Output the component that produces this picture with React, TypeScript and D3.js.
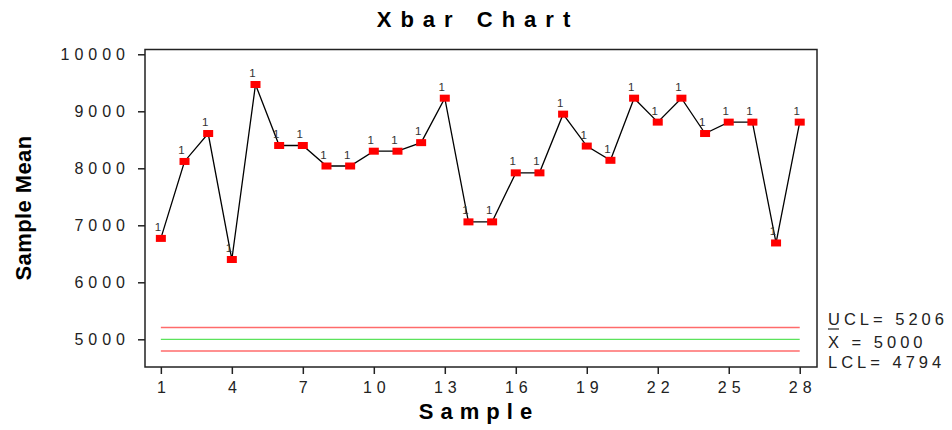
import React, { useRef, useEffect } from 'react';
import * as d3 from 'd3';

// sample numbers 1..28 and their means
const samples = Array.from({ length: 28 }, (_, i) => i + 1);
const means = [
  6770, 8120, 8610, 6400, 9470, 8400, 8400, 8040, 8040, 8300,
  8300, 8450, 9230, 7060, 7060, 7920, 7920, 8950, 8390, 8140,
  9230, 8810, 9230, 8610, 8810, 8810, 6690, 8810,
];
const flags = means.map(() => '1');
const xTicks = [1, 4, 7, 10, 13, 16, 19, 22, 25, 28];
const yTicks = [5000, 6000, 7000, 8000, 9000, 10000];
const limits = { ucl: 5206, center: 5000, lcl: 4794 };

const W = 952;
const H = 430;
const FONT = '"Liberation Sans", Arial, sans-serif';

export default function App() {
  const svgRef = useRef<SVGSVGElement>(null);

  useEffect(() => {
    if (!svgRef.current) return;
    const svg = d3.select(svgRef.current);
    svg.selectAll('*').remove();

    const left = 145, right = 817, top = 49.5, bottom = 367;

    const x = d3.scaleLinear().domain([0.33, 28.73]).range([left, right]);
    const y = d3.scaleLinear().domain([4514, 10084]).range([bottom, top]);

    // frame
    svg.append('rect')
      .attr('x', left).attr('y', top)
      .attr('width', right - left).attr('height', bottom - top)
      .attr('fill', 'none').attr('stroke', '#222').attr('stroke-width', 1.5);

    // axes
    const xAxis = svg.append('g')
      .attr('transform', `translate(0,${bottom})`)
      .call(d3.axisBottom(x).tickValues(xTicks).tickSize(7).tickPadding(8).tickFormat(d3.format('d')));
    xAxis.selectAll('text').attr('dx', 2.5).style('letter-spacing', '5px');

    const yAxis = svg.append('g')
      .attr('transform', `translate(${left},0)`)
      .call(d3.axisLeft(y).tickValues(yTicks).tickSize(7).tickPadding(13).tickFormat(d3.format('d')));
    yAxis.selectAll('text').attr('dx', 5).style('letter-spacing', '5px');

    svg.selectAll('.domain').remove();
    svg.selectAll('.tick line').attr('stroke', '#222').attr('stroke-width', 1.5);
    svg.selectAll('.tick text')
      .style('font-family', FONT).style('font-size', '16px').attr('fill', '#222');

    // control lines
    const ctl = [
      { v: limits.ucl, c: '#ff6b6b', w: 1.5 },
      { v: limits.center, c: '#33dd33', w: 1 },
      { v: limits.lcl, c: '#ff6b6b', w: 1.5 },
    ];
    svg.selectAll('.ctl')
      .data(ctl)
      .enter().append('line')
      .attr('x1', x(1)).attr('x2', x(28))
      .attr('y1', d => y(d.v)).attr('y2', d => y(d.v))
      .attr('stroke', d => d.c).attr('stroke-width', d => d.w);

    // series line
    const line = d3.line<number>()
      .x((_, i) => x(samples[i]))
      .y(d => y(d));
    svg.append('path')
      .datum(means)
      .attr('fill', 'none')
      .attr('stroke', '#000')
      .attr('stroke-width', 1.3)
      .attr('d', line);

    // flag labels
    svg.selectAll('.flag')
      .data(means)
      .enter().append('text')
      .attr('x', (_, i) => x(samples[i]) - 3)
      .attr('y', d => y(d) - 7.5)
      .attr('text-anchor', 'middle')
      .style('font-family', FONT).style('font-size', '11.5px')
      .attr('fill', '#333')
      .text((_, i) => flags[i]);

    // markers
    svg.selectAll('.pt')
      .data(means)
      .enter().append('rect')
      .attr('x', (_, i) => x(samples[i]) - 5)
      .attr('y', d => y(d) - 3.5)
      .attr('width', 10).attr('height', 7)
      .attr('fill', '#ff0000');

    // limit labels
    const lab = svg.append('g')
      .style('font-family', FONT).style('font-size', '16.5px')
      .style('letter-spacing', '4px').attr('fill', '#222');
    lab.append('text').attr('x', 828).attr('y', 325).text(`UCL= ${limits.ucl}`);
    lab.append('text').attr('x', 828).attr('y', 347.5).text(`X = ${limits.center}`);
    lab.append('text').attr('x', 828).attr('y', 368).text(`LCL= ${limits.lcl}`);
    svg.append('line')
      .attr('x1', 828).attr('x2', 839).attr('y1', 329).attr('y2', 329)
      .attr('stroke', '#222').attr('stroke-width', 1.2);

    // titles
    svg.append('text')
      .attr('x', 478).attr('y', 27)
      .attr('text-anchor', 'middle')
      .style('font-family', FONT).style('font-size', '22px').style('font-weight', 'bold')
      .style('letter-spacing', '9px')
      .text('Xbar Chart');

    svg.append('text')
      .attr('x', 479).attr('y', 419)
      .attr('text-anchor', 'middle')
      .style('font-family', FONT).style('font-size', '22px').style('font-weight', 'bold')
      .style('letter-spacing', '7px')
      .text('Sample');

    svg.append('text')
      .attr('transform', 'translate(31,208) rotate(-90)')
      .attr('text-anchor', 'middle')
      .style('font-family', FONT).style('font-size', '22px').style('font-weight', 'bold')
      .style('letter-spacing', '0.4px')
      .text('Sample Mean');
  }, []);

  return (
    <svg
      ref={svgRef}
      width={W}
      height={H}
      style={{ position: 'absolute', left: 0, top: 0, background: '#fff' }}
    />
  );
}
